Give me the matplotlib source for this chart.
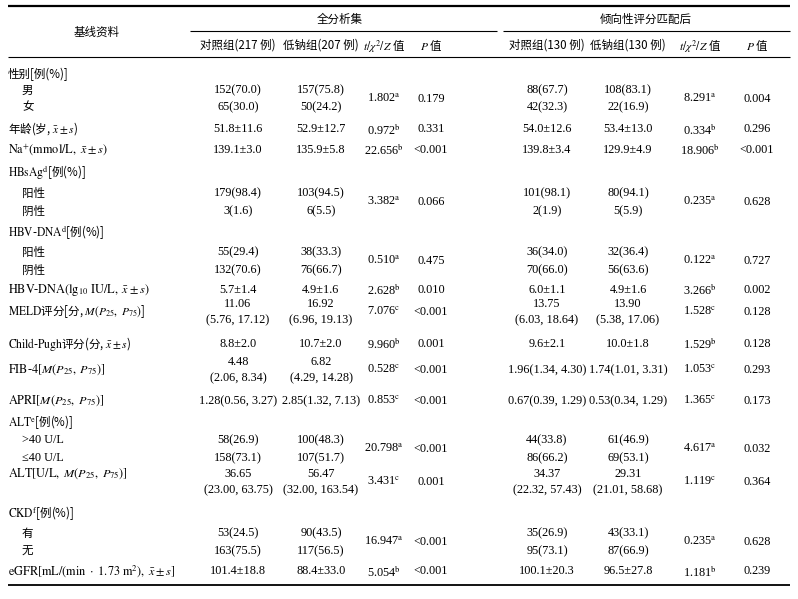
import matplotlib
matplotlib.use("Agg")
import matplotlib.pyplot as plt

plt.rcParams['mathtext.fontset'] = 'stix'

CJK = 'Noto Sans CJK SC'
SERIF = ['Liberation Serif', 'Noto Sans CJK SC', 'DejaVu Sans']

# ---------------- data ----------------
row_labels = [
    "性别[例(%)]", "男", "女",
    r"年龄(岁, $\bar{x}\pm s$)",
    r"$\mathrm{Na}^{+}(\mathrm{mmol/L},\ \bar{x}\pm s)$",
    r"$\mathrm{HBsAg}^{\mathrm{d}}$[例(%)]", "阳性", "阴性",
    r"$\mathrm{HBV}$-$\mathrm{DNA}^{\mathrm{d}}$[例(%)]", "阳性", "阴性",
    r"$\mathrm{HBV}$-$\mathrm{DNA}(\mathrm{lg}_{10}\ \mathrm{IU/L},\ \bar{x}\pm s)$",
    r"$\mathrm{MELD}$评分[分, $M(P_{25},\ P_{75})$]",
    r"$\mathrm{Child}$-$\mathrm{Pugh}$评分(分, $\bar{x}\pm s$)",
    r"$\mathrm{FIB}$-$\mathrm{4}[M(P_{25},\ P_{75})]$",
    r"$\mathrm{APRI}[M(P_{25},\ P_{75})]$",
    r"$\mathrm{ALT}^{\mathrm{e}}$[例(%)]", ">40 U/L", "≤40 U/L",
    r"$\mathrm{ALT}[\mathrm{U/L},\ M(P_{25},\ P_{75})]$",
    r"$\mathrm{CKD}^{\mathrm{f}}$[例(%)]", "有", "无",
    r"$\mathrm{eGFR}[\mathrm{mL/(min}\ \cdot\ 1.73\ \mathrm{m}^{2}),\ \bar{x}\pm s]$",
]
is_sub = [0, 1, 1, 0, 0, 0, 1, 1, 0, 1, 1, 0, 0, 0, 0, 0, 0, 1, 1, 0, 0, 1, 1, 0]

full_ctrl = ["", "152(70.0)", "65(30.0)", "51.8±11.6", "139.1±3.0", "",
             "179(98.4)", "3(1.6)", "", "55(29.4)", "132(70.6)", "5.7±1.4",
             "11.06\n(5.76, 17.12)", "8.8±2.0", "4.48\n(2.06, 8.34)",
             "1.28(0.56, 3.27)", "", "58(26.9)", "158(73.1)",
             "36.65\n(23.00, 63.75)", "", "53(24.5)", "163(75.5)", "101.4±18.8"]
full_low = ["", "157(75.8)", "50(24.2)", "52.9±12.7", "135.9±5.8", "",
            "103(94.5)", "6(5.5)", "", "38(33.3)", "76(66.7)", "4.9±1.6",
            "16.92\n(6.96, 19.13)", "10.7±2.0", "6.82\n(4.29, 14.28)",
            "2.85(1.32, 7.13)", "", "100(48.3)", "107(51.7)",
            "56.47\n(32.00, 163.54)", "", "90(43.5)", "117(56.5)", "88.4±33.0"]
full_stat = ["", "1.802", "", "0.972", "22.656", "", "3.382", "", "", "0.510", "",
             "2.628", "7.076", "9.960", "0.528", "0.853", "", "20.798", "",
             "3.431", "", "16.947", "", "5.054"]
full_p = ["", "0.179", "", "0.331", "<0.001", "", "0.066", "", "", "0.475", "",
          "0.010", "<0.001", "0.001", "<0.001", "<0.001", "", "<0.001", "",
          "0.001", "", "<0.001", "", "<0.001"]

psm_ctrl = ["", "88(67.7)", "42(32.3)", "54.0±12.6", "139.8±3.4", "",
            "101(98.1)", "2(1.9)", "", "36(34.0)", "70(66.0)", "6.0±1.1",
            "13.75\n(6.03, 18.64)", "9.6±2.1", "1.96(1.34, 4.30)",
            "0.67(0.39, 1.29)", "", "44(33.8)", "86(66.2)",
            "34.37\n(22.32, 57.43)", "", "35(26.9)", "95(73.1)", "100.1±20.3"]
psm_low = ["", "108(83.1)", "22(16.9)", "53.4±13.0", "129.9±4.9", "",
           "80(94.1)", "5(5.9)", "", "32(36.4)", "56(63.6)", "4.9±1.6",
           "13.90\n(5.38, 17.06)", "10.0±1.8", "1.74(1.01, 3.31)",
           "0.53(0.34, 1.29)", "", "61(46.9)", "69(53.1)",
           "29.31\n(21.01, 58.68)", "", "43(33.1)", "87(66.9)", "96.5±27.8"]
psm_stat = ["", "8.291", "", "0.334", "18.906", "", "0.235", "", "", "0.122", "",
            "3.266", "1.528", "1.529", "1.053", "1.365", "", "4.617", "",
            "1.119", "", "0.235", "", "1.181"]
psm_p = ["", "0.004", "", "0.296", "<0.001", "", "0.628", "", "", "0.727", "",
         "0.002", "0.128", "0.128", "0.293", "0.173", "", "0.032", "",
         "0.364", "", "0.628", "", "0.239"]

stat_sup = ["", "a", "", "b", "b", "", "a", "", "", "a", "", "b", "c", "b", "c",
            "c", "", "a", "", "c", "", "a", "", "b"]

group_titles = ["全分析集", "倾向性评分匹配后"]
col_titles = ["对照组(217 例)", "低钠组(207 例)", r"$t/\chi^{2}/Z$ 值", r"$P$ 值",
              "对照组(130 例)", "低钠组(130 例)", r"$t/\chi^{2}/Z$ 值", r"$P$ 值"]
corner_title = "基线资料"

# ---------------- layout ----------------
W, H = 798, 599
row_y = [74, 90, 107, 129, 150, 172, 193, 211, 232, 252, 270, 290, 312, 344,
         370, 401, 422, 440, 458, 482, 513, 533, 551, 571]
label_y = list(row_y)
label_y[19] = 474
span2 = {1, 6, 9, 17, 21}
col_x = [238, 321, 384, 431, 547, 628, 700, 757]
FS = 8.3
FSN = 8.8

fig = plt.figure(figsize=(W / 100, H / 100), dpi=100)
ax = fig.add_axes([0, 0, 1, 1])
ax.set_xlim(0, W)
ax.set_ylim(H, 0)
ax.axis('off')

# rules
ax.plot([8, 790], [6, 6], color='black', lw=1.6, solid_capstyle='butt')
ax.plot([190, 497], [31, 31], color='black', lw=0.8, solid_capstyle='butt')
ax.plot([503, 790], [31, 31], color='black', lw=0.8, solid_capstyle='butt')
ax.plot([8, 790], [57, 57], color='black', lw=0.8, solid_capstyle='butt')
ax.plot([8, 790], [585, 585], color='black', lw=1.3, solid_capstyle='butt')

# headers
ax.text(97, 32, corner_title, ha='center', va='center', fontsize=FS, family=CJK,
        fontweight='light')
ax.text(340, 19, group_titles[0], ha='center', va='center', fontsize=FS, family=CJK,
        fontweight='light')
ax.text(646, 19, group_titles[1], ha='center', va='center', fontsize=FS, family=CJK,
        fontweight='light')
for x, t in zip(col_x, col_titles):
    ax.text(x, 45, t, ha='center', va='center', fontsize=FS, family=CJK,
            fontweight='light')

# row labels
for i, lab in enumerate(row_labels):
    x = 22 if is_sub[i] else 8
    if any('\u4e00' <= ch <= '\u9fff' for ch in lab):
        ax.text(x, label_y[i], lab, ha='left', va='center', fontsize=FS,
                family=CJK, fontweight='light')
    else:
        ax.text(x, label_y[i], lab, ha='left', va='center', fontsize=FSN,
                family=SERIF)


def stat_y(i):
    if i in span2:
        return (row_y[i] + row_y[i + 1]) / 2
    return row_y[i]


for i in range(len(row_labels)):
    for x, col in zip([col_x[0], col_x[1], col_x[4], col_x[5]],
                      [full_ctrl, full_low, psm_ctrl, psm_low]):
        if col[i]:
            ax.text(x, row_y[i], col[i], ha='center', va='center', fontsize=FSN,
                    family=SERIF, multialignment='center', linespacing=1.4)
    for x, col in zip([col_x[2], col_x[6]], [full_stat, psm_stat]):
        if col[i]:
            ax.text(x, stat_y(i), col[i] + r"$^{\mathrm{%s}}$" % stat_sup[i],
                    ha='center', va='center', fontsize=FSN, family=SERIF)
    for x, col in zip([col_x[3], col_x[7]], [full_p, psm_p]):
        if col[i]:
            ax.text(x, stat_y(i), col[i], ha='center', va='center', fontsize=FSN,
                    family=SERIF)

fig.savefig('out.png', dpi=100)
